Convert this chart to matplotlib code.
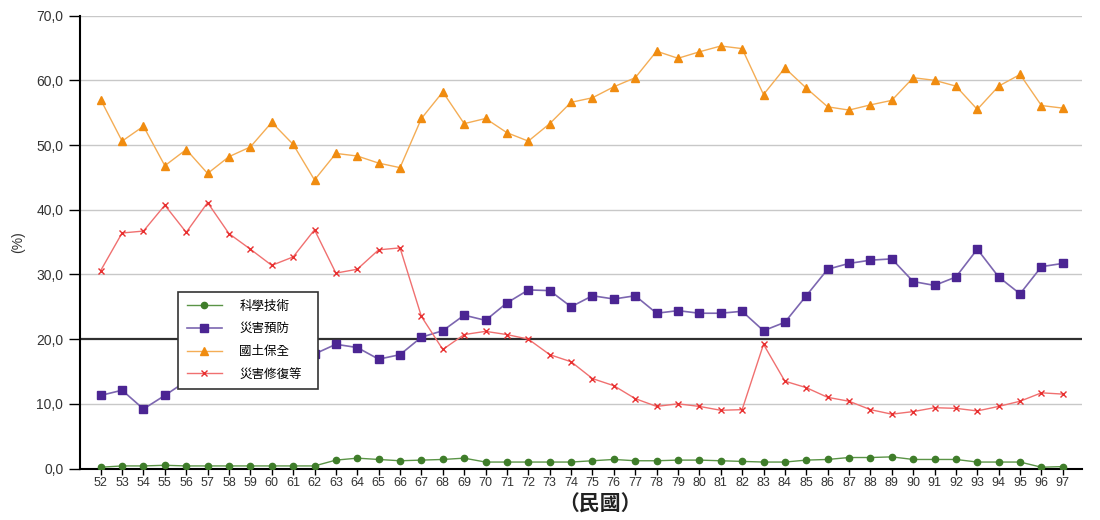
import matplotlib
matplotlib.use('Agg')
import matplotlib.pyplot as plt
import numpy as np

plt.rcParams['font.family'] = ['Liberation Sans', 'Noto Sans CJK TC', 'DejaVu Sans']

# 民國年 52 ~ 97
years = list(range(52, 98))

keji = [0.2, 0.4, 0.4, 0.5, 0.4, 0.4, 0.4, 0.4, 0.4, 0.4, 0.4, 1.3, 1.6, 1.4, 1.2, 1.3,
        1.4, 1.6, 1.0, 1.0, 1.0, 1.0, 1.0, 1.2, 1.4, 1.2, 1.2, 1.3, 1.3, 1.2, 1.1, 1.0,
        1.0, 1.3, 1.4, 1.7, 1.7, 1.8, 1.4, 1.4, 1.4, 1.0, 1.0, 1.0, 0.2, 0.3]

yufang = [11.3, 12.1, 9.2, 11.3, 13.5, 15.0, 15.5, 16.0, 17.0, 17.5, 17.7, 19.2, 18.7, 16.9,
          17.6, 20.3, 21.3, 23.7, 22.9, 25.6, 27.6, 27.5, 25.0, 26.7, 26.2, 26.7, 24.0, 24.4,
          24.0, 24.0, 24.3, 21.3, 22.6, 26.7, 30.8, 31.7, 32.2, 32.4, 28.9, 28.3, 29.6, 33.9,
          29.6, 27.0, 31.2, 31.7]

baoquan = [57.0, 50.6, 52.9, 46.8, 49.3, 45.6, 48.2, 49.7, 53.5, 50.1, 44.6, 48.7, 48.3,
           47.2, 46.5, 54.1, 58.2, 53.3, 54.1, 51.9, 50.6, 53.3, 56.6, 57.3, 59.0, 60.4,
           64.5, 63.4, 64.4, 65.3, 64.9, 57.8, 61.9, 58.8, 55.9, 55.4, 56.2, 56.9, 60.4,
           60.0, 59.1, 55.5, 59.1, 60.9, 56.1, 55.7]

xiufu = [30.6, 36.4, 36.7, 40.7, 36.5, 41.1, 36.3, 33.9, 31.4, 32.7, 36.9, 30.2, 30.8, 33.8,
         34.1, 23.5, 18.4, 20.7, 21.2, 20.7, 20.0, 17.6, 16.5, 13.9, 12.8, 10.8, 9.6, 10.0,
         9.6, 9.0, 9.1, 19.2, 13.5, 12.5, 11.0, 10.4, 9.1, 8.4, 8.8, 9.4, 9.3, 8.9, 9.6,
         10.4, 11.7, 11.5]

fig = plt.figure(figsize=(11, 5.2), dpi=100)
ax = fig.add_axes([0.0727, 0.099, 0.911, 0.871])

x = np.arange(len(years))

for v in [10, 30, 40, 50, 60, 70]:
    ax.axhline(v, color='#c8c8c8', lw=1.0, zorder=0)
ax.axhline(20, color='#303030', lw=1.6, zorder=1)

ax.plot(x, keji, '-', color='#5a9446', lw=1.0, marker='o', ms=4.5,
        mfc='#3f7d2a', mec='#3f7d2a', label='科學技術', zorder=3)
ax.plot(x, yufang, '-', color='#7c66b0', lw=1.2, marker='s', ms=6,
        mfc='#4b2593', mec='#4b2593', label='災害預防', zorder=3)
ax.plot(x, baoquan, '-', color='#f4ad55', lw=1.0, marker='^', ms=6,
        mfc='#f08c10', mec='#f08c10', label='國土保全', zorder=3)
ax.plot(x, xiufu, '-', color='#f07070', lw=1.0, marker='x', ms=5, mew=1.0,
        mec='#e83030', label='災害修復等', zorder=3)

ax.set_ylim(0, 70)
ax.set_xlim(-0.97, len(years) - 1 + 0.9)
ax.set_yticks(range(0, 71, 10))
ax.set_yticklabels([f'{v:.1f}'.replace('.', ',') for v in range(0, 71, 10)],
                   fontsize=10, color='#333333')
ax.set_xticks(x)
ax.set_xticklabels([str(y) for y in years], fontsize=9, color='#333333')
ax.tick_params(axis='y', direction='out', length=8, width=1.0, pad=4)
ax.tick_params(axis='x', direction='out', length=4, width=1.0, pad=2)

for side in ['top', 'right']:
    ax.spines[side].set_visible(False)
ax.spines['left'].set_linewidth(1.5)
ax.spines['bottom'].set_linewidth(1.5)

ax.set_ylabel('(%)', fontsize=10, color='#333333', labelpad=8)
fig.text(0.545, 0.03, '（民國）', fontsize=15, fontweight='bold', ha='center',
         va='center', color='#222222')

# 圖例框:左上角對齊,寬度固定
leg = ax.legend(loc='upper left', bbox_to_anchor=(0.098, 0.39, 0.14, 0.0),
                mode='expand', borderaxespad=0, fontsize=9, frameon=True,
                fancybox=False, edgecolor='#333333', framealpha=1.0,
                handlelength=2.8, handletextpad=1.4, borderpad=0.7,
                labelspacing=0.85)
leg.get_frame().set_linewidth(1.2)
leg.set_zorder(5)

fig.savefig('out.png', dpi=100)
